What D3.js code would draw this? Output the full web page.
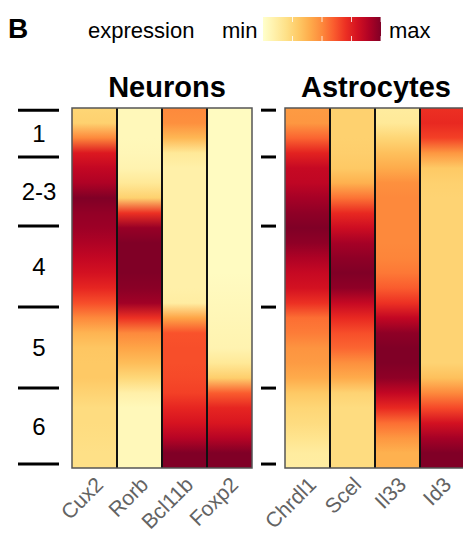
<!DOCTYPE html>
<html>
<head>
<meta charset="utf-8">
<script src="https://cdn.jsdelivr.net/npm/d3@7"></script>
<style>
  body { margin: 0; background: #fff; }
  svg { display: block; font-family: "Liberation Sans", Arial, sans-serif; }
</style>
</head>
<body>
<svg id="chart" width="463" height="534"></svg>
<script>

// depth along the cortex, 0 = pia, 1 = white matter
var depth = [0, 0.042, 0.083, 0.125, 0.167, 0.208, 0.25, 0.292, 0.333, 0.375, 0.417, 0.458,
             0.5, 0.542, 0.583, 0.625, 0.667, 0.708, 0.75, 0.792, 0.833, 0.875, 0.917, 0.958, 1]

// scaled expression (0 = min, 1 = max) read at each depth
var cux2   = [0.25, 0.27, 0.5, 0.77, 0.85, 0.9, 1.0, 0.96, 0.94, 0.9, 0.85, 0.8, 0.73,
              0.63, 0.5, 0.37, 0.31, 0.3, 0.3, 0.26, 0.22, 0.22, 0.21, 0.2, 0.2]
var rorb   = [0.05, 0.05, 0.05, 0.06, 0.08, 0.15, 0.27, 0.7, 0.95, 1.0, 1.0, 1.0, 0.98,
              0.93, 0.7, 0.5, 0.42, 0.34, 0.24, 0.1, 0.05, 0.05, 0.05, 0.05, 0.05]
var bcl11b = [0.5, 0.48, 0.36, 0.15, 0.1, 0.1, 0.1, 0.1, 0.1, 0.1, 0.1, 0.1, 0.1,
              0.12, 0.42, 0.62, 0.63, 0.63, 0.64, 0.66, 0.73, 0.79, 0.88, 1.0, 1.0]
var foxp2  = [0.03, 0.03, 0.03, 0.03, 0.03, 0.03, 0.03, 0.03, 0.03, 0.03, 0.03, 0.03, 0.04,
              0.05, 0.06, 0.07, 0.08, 0.15, 0.28, 0.6, 0.73, 0.78, 0.88, 1.0, 1.0]
var chrdl1 = [0.45, 0.46, 0.58, 0.74, 0.84, 0.86, 0.92, 0.97, 1.0, 0.97, 0.9, 0.84, 0.8,
              0.7, 0.56, 0.53, 0.47, 0.45, 0.4, 0.3, 0.25, 0.22, 0.18, 0.13, 0.12]
var scel   = [0.27, 0.27, 0.27, 0.28, 0.3, 0.38, 0.55, 0.72, 0.82, 0.92, 0.97, 1.0, 0.97,
              0.84, 0.72, 0.63, 0.58, 0.48, 0.4, 0.26, 0.22, 0.22, 0.22, 0.22, 0.22]
var il33   = [0.13, 0.15, 0.25, 0.33, 0.4, 0.48, 0.5, 0.5, 0.5, 0.5, 0.51, 0.54, 0.6,
              0.7, 0.85, 0.97, 1.0, 1.0, 0.97, 0.85, 0.72, 0.56, 0.46, 0.38, 0.38]
var id3    = [0.7, 0.72, 0.66, 0.46, 0.3, 0.27, 0.26, 0.26, 0.26, 0.26, 0.26, 0.26, 0.26,
              0.26, 0.26, 0.26, 0.26, 0.26, 0.33, 0.5, 0.64, 0.8, 0.92, 1.0, 1.0]

var neuronGenes = ['Cux2', 'Rorb', 'Bcl11b', 'Foxp2']
var astroGenes  = ['Chrdl1', 'Scel', 'Il33', 'Id3']
var layers      = ['1', '2-3', '4', '5', '6']
var layerEdges  = [0.006, 0.136, 0.328, 0.553, 0.778, 0.989]
var legendTicks = [0.25, 0.5, 0.75, 1]

var values = {Cux2: cux2, Rorb: rorb, Bcl11b: bcl11b, Foxp2: foxp2,
              Chrdl1: chrdl1, Scel: scel, Il33: il33, Id3: id3}

var svg = d3.select('#chart')
var defs = svg.append('defs')

var color = d3.scaleSequential(d3.interpolateYlOrRd).domain([0, 1])
var y = d3.scaleLinear().domain([0, 1]).range([108, 468])

var panels = [
  {title: 'Neurons', genes: neuronGenes, x0: 72, x1: 252, tx: 167},
  {title: 'Astrocytes', genes: astroGenes, x0: 285, x1: 465, tx: 376}
]

// panel label + colour legend
svg.append('text').attr('x', 8).attr('y', 38)
   .style('font-size', '28px').style('font-weight', 'bold').text('B')

svg.append('text').attr('x', 88).attr('y', 38).style('font-size', '22px').text('expression')
svg.append('text').attr('x', 222).attr('y', 38).style('font-size', '22px').text('min')
svg.append('text').attr('x', 389).attr('y', 38).style('font-size', '22px').text('max')

var lx = d3.scaleLinear().domain([0, 1]).range([263, 381])
var lg = defs.append('linearGradient').attr('id', 'legendGrad')
lg.selectAll('stop')
  .data(d3.range(0, 1.0001, 0.1))
  .enter().append('stop')
  .attr('offset', function(d){ return d })
  .attr('stop-color', function(d){ return color(d) })

svg.append('rect').attr('x', lx(0)).attr('y', 17)
   .attr('width', lx(1) - lx(0)).attr('height', 24)
   .style('fill', 'url(#legendGrad)')

legendTicks.forEach(function(t){
  svg.append('line').attr('x1', lx(t)).attr('x2', lx(t)).attr('y1', 17).attr('y2', 22)
     .style('stroke', '#fff').style('stroke-width', 1).style('opacity', 0.8)
  svg.append('line').attr('x1', lx(t)).attr('x2', lx(t)).attr('y1', 36).attr('y2', 41)
     .style('stroke', '#fff').style('stroke-width', 1).style('opacity', 0.8)
})

// heatmap panels
panels.forEach(function(p, pi){
  var x = d3.scaleBand().domain(p.genes).range([p.x0, p.x1]).paddingInner(0)
  var g = svg.append('g')

  p.genes.forEach(function(gene){
    var grad = defs.append('linearGradient').attr('id', 'grad-' + gene)
      .attr('x1', 0).attr('y1', 0).attr('x2', 0).attr('y2', 1)
    grad.selectAll('stop')
      .data(values[gene])
      .enter().append('stop')
      .attr('offset', function(d, i){ return depth[i] })
      .attr('stop-color', function(d){ return color(d) })
  })

  g.selectAll('rect.cell')
    .data(p.genes)
    .enter().append('rect')
    .attr('class', 'cell')
    .attr('x', function(d){ return x(d) })
    .attr('y', y(0))
    .attr('width', x.bandwidth())
    .attr('height', y(1) - y(0))
    .style('fill', function(d){ return 'url(#grad-' + d + ')' })

  g.selectAll('line.sep')
    .data(p.genes.slice(1))
    .enter().append('line')
    .attr('x1', function(d){ return x(d) })
    .attr('x2', function(d){ return x(d) })
    .attr('y1', y(0)).attr('y2', y(1))
    .style('stroke', '#111').style('stroke-width', 2)

  g.append('rect')
    .attr('x', p.x0).attr('y', y(0))
    .attr('width', p.x1 - p.x0).attr('height', y(1) - y(0))
    .style('fill', 'none').style('stroke', '#555').style('stroke-width', 1.5)

  svg.append('text')
    .attr('x', p.tx).attr('y', 97)
    .style('text-anchor', 'middle').style('font-size', '29px').style('font-weight', 'bold')
    .text(p.title)

  g.selectAll('text.gene')
    .data(p.genes)
    .enter().append('text')
    .attr('class', 'gene')
    .attr('transform', function(d){
      return 'translate(' + (x(d) + x.bandwidth() / 2 + 10) + ',486) rotate(-45)'
    })
    .style('text-anchor', 'end').style('font-size', '21px').style('fill', '#636363')
    .text(function(d){ return d })
})

// layer boundaries
svg.selectAll('line.layerL')
  .data(layerEdges)
  .enter().append('line')
  .attr('x1', 18).attr('x2', 59)
  .attr('y1', function(d){ return y(d) }).attr('y2', function(d){ return y(d) })
  .style('stroke', '#000').style('stroke-width', 3)

svg.selectAll('line.layerR')
  .data(layerEdges)
  .enter().append('line')
  .attr('x1', 261).attr('x2', 276)
  .attr('y1', function(d){ return y(d) }).attr('y2', function(d){ return y(d) })
  .style('stroke', '#000').style('stroke-width', 3)

svg.selectAll('text.layer')
  .data(layers)
  .enter().append('text')
  .attr('x', 39)
  .attr('y', function(d, i){ return (y(layerEdges[i]) + y(layerEdges[i + 1])) / 2 })
  .attr('dy', '0.36em')
  .style('text-anchor', 'middle').style('font-size', '24px')
  .text(function(d){ return d })

</script>
</body>
</html>
